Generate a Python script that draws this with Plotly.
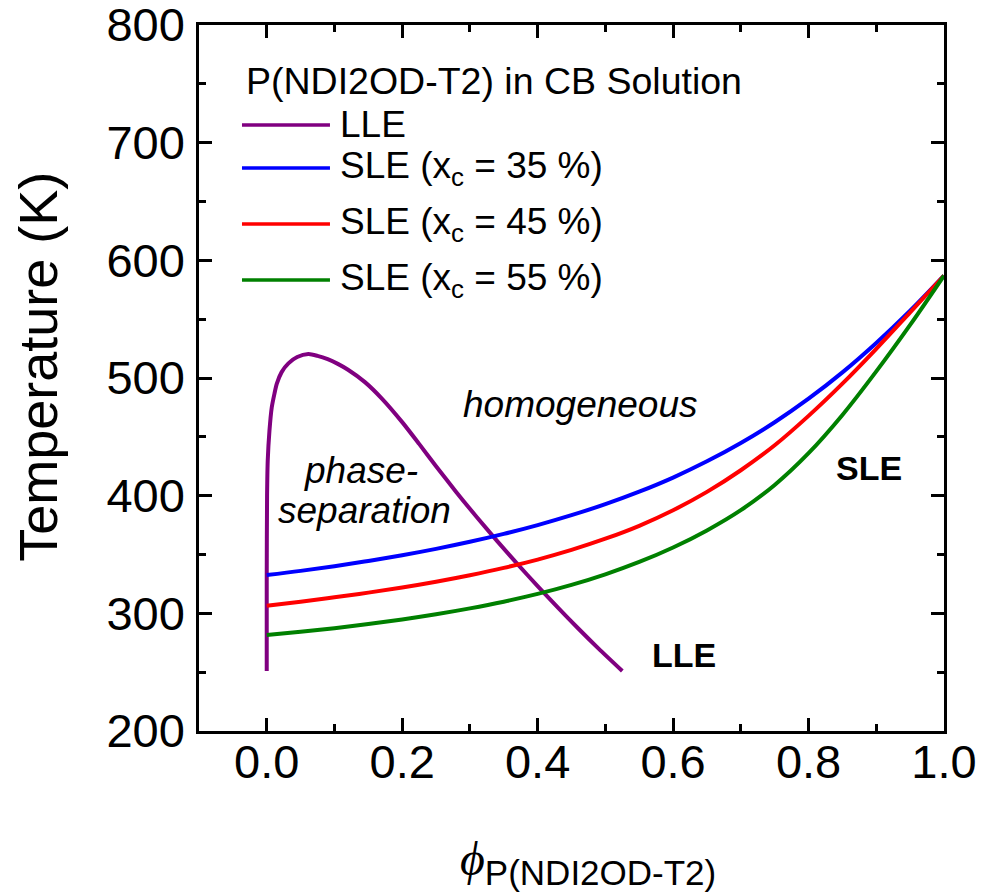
import plotly.graph_objects as go

# ---------------- data ----------------
lle_x = [0.0, 0.0, 0.0005, 0.0015, 0.004, 0.0074, 0.0115, 0.0148, 0.022, 0.032, 0.045,
         0.0614, 0.075, 0.09, 0.105, 0.12, 0.145, 0.17, 0.2, 0.225, 0.25, 0.28, 0.31,
         0.34, 0.37, 0.4, 0.43, 0.46, 0.49, 0.525]
lle_T = [251, 330, 400, 430, 455, 475, 487, 495, 505, 512.4, 517.8,
         520.3, 518.8, 516.0, 512.0, 507.0, 496.5, 482.5, 462.5, 444.0, 425.0, 403.0, 381.9,
         361.6, 342.0, 323.1, 304.8, 287.1, 270.0, 251.0]

sle_x = [0.0, 0.05, 0.1, 0.15, 0.2, 0.25, 0.3, 0.35, 0.4, 0.45, 0.5,
         0.55, 0.6, 0.65, 0.7, 0.75, 0.8, 0.85, 0.9, 0.95, 1.0]
sle35_T = [332.5, 336.1, 340.1, 344.5, 349.4, 354.8, 360.8, 367.5, 375.0, 383.4, 392.8,
           403.4, 415.4, 429.2, 444.8, 462.4, 482.4, 504.8, 529.8, 557.2, 587.0]
sle45_T = [306.5, 309.9, 313.6, 317.6, 322.0, 326.9, 332.4, 338.6, 345.7, 353.9, 363.4,
           374.4, 387.6, 403.2, 421.6, 442.8, 467.8, 495.2, 524.8, 555.8, 587.0]
sle55_T = [281.5, 284.3, 287.4, 290.9, 294.8, 299.2, 304.2, 309.9, 316.5, 324.2, 333.2,
           343.7, 356.0, 370.5, 387.7, 409.1, 436.1, 468.6, 505.6, 545.1, 587.0]

series_names = ["LLE", "SLE (x<sub>c</sub> = 35 %)", "SLE (x<sub>c</sub> = 45 %)",
                "SLE (x<sub>c</sub> = 55 %)"]
series_colors = ["#800080", "#0000FF", "#FF0000", "#008000"]
legend_title = "P(NDI2OD-T2) in CB Solution"

x_range = [-0.1, 1.0]
y_range = [200, 800]
x_ticks = [0.0, 0.2, 0.4, 0.6, 0.8, 1.0]
x_ticklabels = ["0.0", "0.2", "0.4", "0.6", "0.8", "1.0"]
y_ticks = [200, 300, 400, 500, 600, 700, 800]

FONT = "Liberation Sans, Arial, sans-serif"

fig = go.Figure()
fig.add_trace(go.Scatter(x=lle_x, y=lle_T, mode="lines",
                         line=dict(color=series_colors[0], width=4, shape="spline", smoothing=0.7),
                         showlegend=False))
for T, c in zip([sle35_T, sle45_T, sle55_T], series_colors[1:]):
    fig.add_trace(go.Scatter(x=sle_x, y=T, mode="lines",
                             line=dict(color=c, width=4, shape="spline", smoothing=1.0),
                             showlegend=False))

axis_common = dict(
    showline=True, linecolor="black", linewidth=2.5, mirror="ticks",
    ticks="inside", ticklen=13, tickwidth=2.5, tickcolor="black",
    showgrid=False, zeroline=False, ticklabeloverflow="allow", automargin=False,
    tickfont=dict(family=FONT, size=47, color="black"),
)
fig.update_xaxes(range=x_range, tickvals=x_ticks, ticktext=x_ticklabels,
                 minor=dict(ticks="inside", ticklen=7, tickwidth=2.5, dtick=0.1, tick0=0,
                            tickcolor="black", showgrid=False),
                 ticklabelstandoff=-12, **axis_common)
fig.update_yaxes(range=y_range, tickvals=y_ticks,
                 minor=dict(ticks="inside", ticklen=7, tickwidth=2.5, dtick=50, tick0=0,
                            tickcolor="black", showgrid=False),
                 ticklabelstandoff=2, **axis_common)

annotations = []
# axis titles
annotations.append(dict(xref="paper", yref="paper", x=-0.216, y=0.516, text="Temperature (K)",
                        textangle=-90, showarrow=False, xanchor="center", yanchor="middle",
                        font=dict(family=FONT, size=54, color="black")))
annotations.append(dict(xref="paper", yref="paper", x=0.522, y=-0.186,
                        text="<span style=\"font-family:Liberation Serif\"><i>ϕ</i></span>"
                             "<sub><span style=\"font-size:35px\">P(NDI2OD-T2)</span></sub>",
                        showarrow=False, xanchor="center", yanchor="middle",
                        font=dict(family=FONT, size=48, color="black")))
# in-plot labels
annotations.append(dict(x=0.464, y=477.9, text="<i>homogeneous</i>", showarrow=False,
                        font=dict(family=FONT, size=37, color="black")))
annotations.append(dict(x=0.139, y=421.8, text="<i>phase-</i>", showarrow=False,
                        font=dict(family=FONT, size=37, color="black")))
annotations.append(dict(x=0.145, y=387.8, text="<i>separation</i>", showarrow=False,
                        font=dict(family=FONT, size=37, color="black")))
annotations.append(dict(x=0.889, y=423.5, text="<b>SLE</b>", showarrow=False,
                        font=dict(family=FONT, size=34, color="black")))
annotations.append(dict(x=0.616, y=264.2, text="<b>LLE</b>", showarrow=False,
                        font=dict(family=FONT, size=34, color="black")))

# manual legend
annotations.append(dict(xref="paper", yref="paper", x=0.060, y=0.92, text=legend_title,
                        showarrow=False, xanchor="left", yanchor="middle",
                        font=dict(family=FONT, size=37.5, color="black")))
legend_y = [0.8584, 0.7975, 0.7181, 0.6388]
shapes = []
for name, c, ly in zip(series_names, series_colors, legend_y):
    shapes.append(dict(type="line", xref="paper", yref="paper", x0=0.0577, x1=0.1758,
                       y0=ly, y1=ly, line=dict(color=c, width=3.5)))
    annotations.append(dict(xref="paper", yref="paper", x=0.186, y=ly, text=name,
                            showarrow=False, xanchor="left", yanchor="middle",
                            font=dict(family=FONT, size=37, color="black")))

# plot area at x 199..944, y 25..731 of the 984x892 window
fig.update_layout(
    width=984, height=892,
    margin=dict(l=199, r=40, t=25, b=161, autoexpand=False),
    paper_bgcolor="white", plot_bgcolor="white",
    annotations=annotations, shapes=shapes,
    showlegend=False,
)

fig.write_html("out.html",
               config={"displayModeBar": False},
               post_script="document.body.style.margin='0px';document.body.style.overflow='hidden';")
